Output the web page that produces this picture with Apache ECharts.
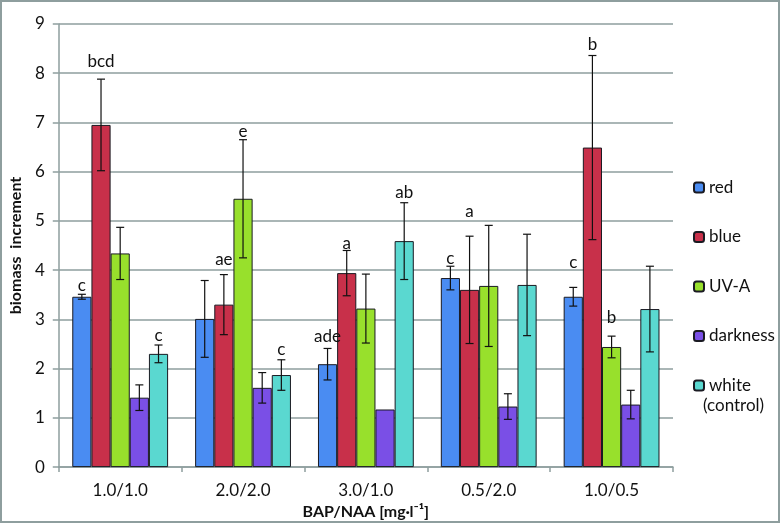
<!DOCTYPE html>
<html>
<head>
<meta charset="utf-8">
<script src="https://cdn.jsdelivr.net/npm/echarts@6/dist/echarts.min.js"></script>
<style>html,body{margin:0;padding:0;background:#fff}#c{width:781px;height:525px}</style>
</head>
<body>
<div id="c"></div>
<script>
const categories = ['1.0/1.0', '2.0/2.0', '3.0/1.0', '0.5/2.0', '1.0/0.5'];
const seriesNames = ['red', 'blue', 'UV-A', 'darkness', 'white'];
const yTicks = [0, 1, 2, 3, 4, 5, 6, 7, 8, 9];

const redVals = [3.46, 3.01, 2.09, 3.84, 3.46];
const redErr = [0.05, 0.78, 0.32, 0.24, 0.19];
const blueVals = [6.95, 3.30, 3.94, 3.60, 6.49];
const blueErr = [0.93, 0.61, 0.46, 1.09, 1.87];
const uvaVals = [4.34, 5.45, 3.22, 3.68, 2.44];
const uvaErr = [0.53, 1.20, 0.70, 1.23, 0.22];
const darkVals = [1.41, 1.61, 1.17, 1.23, 1.27];
const darkErr = [0.26, 0.31, 0, 0.26, 0.29];
const whiteVals = [2.30, 1.87, 4.59, 3.70, 3.21];
const whiteErr = [0.18, 0.31, 0.78, 1.03, 0.87];

// significance letters and the value (height) at which each is written
const redLetters = ['c', '', 'ade', 'c', 'c'];
const redLetterAt = [3.68, null, 2.65, 4.23, 4.16];
const blueLetters = ['bcd', 'ae', 'a', 'a', 'b'];
const blueLetterAt = [8.24, 4.22, 4.55, 5.20, 8.58];
const uvaLetters = ['', 'e', '', '', 'b'];
const uvaLetterAt = [null, 6.81, null, null, 3.04];
const darkLetters = ['', '', '', '', ''];
const darkLetterAt = [null, null, null, null, null];
const whiteLetters = ['c', 'c', 'ab', '', ''];
const whiteLetterAt = [2.68, 2.38, 5.57, null, null];

const colors = ['#4a8cf2', '#c8304a', '#98e02c', '#7a4fe6', '#5ad8d0'];
const FONT = 'Lato, "Open Sans", sans-serif';
const GAP = 0.22;

const allVals = [redVals, blueVals, uvaVals, darkVals, whiteVals];
const allErr = [redErr, blueErr, uvaErr, darkErr, whiteErr];
const allLetters = [redLetters, blueLetters, uvaLetters, darkLetters, whiteLetters];
const allLetterAt = [redLetterAt, blueLetterAt, uvaLetterAt, darkLetterAt, whiteLetterAt];

const flat = [];
allVals.forEach((vals, s) => {
  vals.forEach((v, i) => {
    flat.push({ cat: i, s: s, v: v, e: allErr[s][i], letter: allLetters[s][i], at: allLetterAt[s][i] });
  });
});

const barSeries = seriesNames.map((n, s) => ({
  name: n,
  type: 'bar',
  data: allVals[s],
  barCategoryGap: (GAP * 100) + '%',
  barGap: '0%',
  itemStyle: { color: colors[s], borderColor: '#1a1a22', borderWidth: 1 },
  emphasis: { disabled: true },
  z: 2
}));

const errSeries = {
  type: 'custom',
  data: flat.map(d => [d.cat, d.s, d.v, d.e]),
  z: 5,
  silent: true,
  renderItem: function (params, api) {
    const d = flat[params.dataIndex];
    const band = api.size([1, 0])[0];
    const bw = band * (1 - GAP) / seriesNames.length;
    const cx = api.coord([d.cat, 0])[0] + (d.s - (seriesNames.length - 1) / 2) * bw;
    const children = [];
    if (d.e > 0) {
      const yt = api.coord([d.cat, d.v + d.e])[1];
      const yb = api.coord([d.cat, d.v - d.e])[1];
      const st = { stroke: '#111', lineWidth: 1.2 };
      children.push({ type: 'line', shape: { x1: cx, y1: yt, x2: cx, y2: yb }, style: st });
      children.push({ type: 'line', shape: { x1: cx - 4, y1: yt, x2: cx + 4, y2: yt }, style: st });
      children.push({ type: 'line', shape: { x1: cx - 4, y1: yb, x2: cx + 4, y2: yb }, style: st });
    }
    if (d.letter && d.at != null) {
      const ly = api.coord([d.cat, d.at])[1];
      children.push({
        type: 'text',
        style: { text: d.letter, x: cx, y: ly, align: 'center', verticalAlign: 'middle', font: '17px ' + FONT, fill: '#111' }
      });
    }
    return { type: 'group', children: children };
  }
};

const chart = echarts.init(document.getElementById('c'), null, { renderer: 'canvas' });
chart.setOption({
  animation: false,
  textStyle: { fontFamily: FONT },
  grid: { left: 49, right: 108, top: 24, bottom: 52.5 },
  legend: {
    orient: 'vertical',
    left: 688,
    top: 174,
    itemWidth: 10,
    itemHeight: 10,
    itemGap: 32.5,
    data: seriesNames,
    textStyle: { fontSize: 17, color: '#111', fontFamily: FONT },
    selectedMode: false
  },
  graphic: [
    { type: 'rect', shape: { x: 1, y: 1, width: 778, height: 521 }, style: { fill: 'none', stroke: '#8e9e9e', lineWidth: 2 }, z: 100 },
    { type: 'text', left: 703, top: 397, style: { text: '(control)', font: '17px ' + FONT, fill: '#111' } }
  ],
  xAxis: {
    type: 'category',
    data: categories,
    name: 'BAP/NAA [mg·l⁻¹]',
    nameLocation: 'middle',
    nameGap: 28,
    nameTextStyle: { fontSize: 16, fontWeight: 'bold', color: '#111', fontFamily: FONT },
    axisLine: { lineStyle: { color: '#8e9e9e', width: 1.5 } },
    axisTick: { show: true, length: 5, lineStyle: { color: '#8e9e9e', width: 1.5 } },
    axisLabel: { fontSize: 17, color: '#111', margin: 15, fontFamily: FONT }
  },
  yAxis: {
    type: 'value',
    min: yTicks[0],
    max: yTicks[yTicks.length - 1],
    interval: 1,
    name: 'biomass  increment',
    nameLocation: 'middle',
    nameGap: 26,
    nameRotate: 90,
    nameTextStyle: { fontSize: 16, fontWeight: 'bold', color: '#111', fontFamily: FONT },
    axisLine: { show: true, lineStyle: { color: '#8e9e9e', width: 1.5 } },
    axisTick: { show: true, length: 6, lineStyle: { color: '#8e9e9e', width: 1.5 } },
    splitLine: { lineStyle: { color: '#8e9e9e', width: 1.5 } },
    axisLabel: { fontSize: 17, color: '#111', margin: 14, fontFamily: FONT }
  },
  series: barSeries.concat([errSeries])
});
</script>
</body>
</html>
